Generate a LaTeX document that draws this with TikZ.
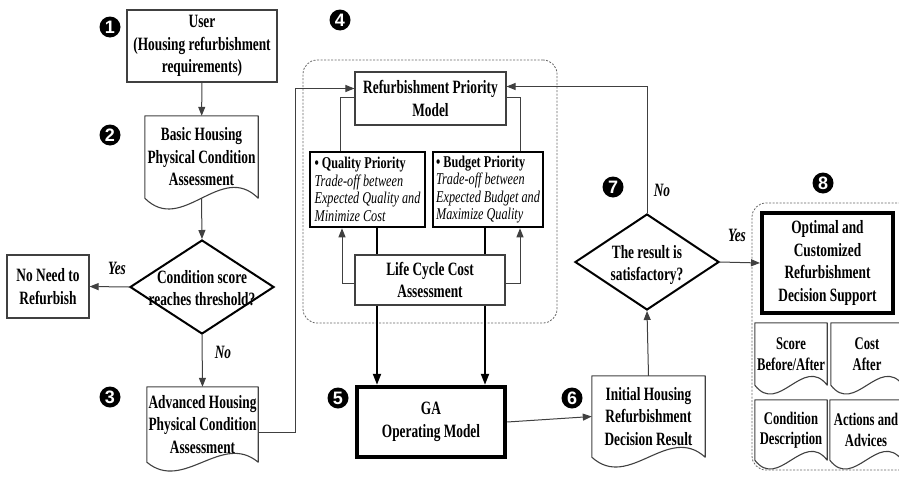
\documentclass[tikz,border=0pt]{standalone}
\usepackage{fontspec}
\setmainfont{Liberation Serif}[FakeStretch=0.71]
\newfontfamily\priofont{Liberation Serif}[FakeStretch=0.74]
\newfontfamily\digitfont{Liberation Sans}
\usetikzlibrary{arrows.meta,shapes.geometric,calc}

% document symbol: rectangle with a wavy bottom edge, drawn round a node
\newcommand\docwave[2]{%
  \draw[docline] let \p1=(#1.south west), \p2=(#1.north east) in
    (\x1,\y1) -- (\x1,\y2) -- (\x2,\y2) -- (\x2,\y1)
    .. controls ({\x2-0.33*(\x2-\x1)},{\y1+3.4*#2 pt}) and ({\x1+0.33*(\x2-\x1)},{\y1-3.4*#2 pt}) .. (\x1,\y1) -- cycle;}

\tikzset{
  txt/.style={font=\fontsize{18.8}{22.5}\selectfont\bfseries, align=center, inner sep=1pt},
  smalltxt/.style={txt, font=\fontsize{17.8}{20.5}\selectfont\bfseries},
  box/.style={txt, draw=black!75, line width=1.1pt},
  docline/.style={draw=black!75, line width=1.1pt, line join=round},
  heavy/.style={txt, draw=black, line width=#1},
  prio/.style={draw=black, line width=2.5pt, font=\priofont\fontsize{16.5}{17.5}\selectfont,
    align=left, inner sep=2pt, minimum height=75pt},
  decision/.style={diamond, draw=black, line width=2pt, inner sep=0pt},
  numball/.style={circle, fill=black, text=white, inner sep=0pt, minimum size=21pt,
    font=\digitfont\bfseries\fontsize{18}{18}\selectfont},
  flow/.style={draw=black!75, line width=1pt, -{Triangle[length=9pt,width=7pt]}},
  link/.style={draw=black!75, line width=1pt},
  boldlink/.style={draw=black, line width=2pt},
  boldflow/.style={draw=black, line width=2pt, -{Triangle[length=11pt,width=8pt]}},
  group/.style={draw=black!60, dash pattern=on 2pt off 1.5pt, line width=0.8pt, rounded corners=14pt},
  lbl/.style={font=\fontsize{18.8}{20}\selectfont\bfseries\itshape, inner sep=0pt},
}

\begin{document}
\begin{tikzpicture}[x=1pt,y=-1pt]
\useasboundingbox (0,0) rectangle (899,479);

% dashed groups
\node[group, minimum width=254pt, minimum height=263pt] (g4) at (430,191.5) {};
\node[group, minimum width=166pt, minimum height=267pt] (g8) at (835,336.5) {};

% left column
\node[box, minimum width=150pt, minimum height=72pt] (user) at (202,46)
  {User\\(Housing refurbishment\\requirements)};
\node[txt, minimum width=113pt, minimum height=82pt] (basic) at (201.5,157)
  {Basic Housing\\Physical Condition\\Assessment};
\docwave{basic}{11}
\node[decision, minimum width=144pt, minimum height=94pt] (cond) at (202,287) {};
\node[txt] (condt) at (202,288) {Condition score\\reaches threshold?};
\node[box, minimum width=82pt, minimum height=63pt] (noneed) at (48,286.5)
  {No Need to\\Refurbish};
\node[txt, minimum width=111pt, minimum height=75pt] (adv) at (202.5,424.5)
  {Advanced Housing\\Physical Condition\\Assessment};
\docwave{adv}{9}

% refurbishment priority group
\node[box, minimum width=151pt, minimum height=53pt] (rpm) at (430.5,98.5)
  {Refurbishment Priority\\Model};
\node[prio, minimum width=115pt] (qp) at (367.5,189.5)
  {\textbf{\textbullet\ Quality Priority}\\\textit{Trade-off between}\\\textit{Expected Quality and}\\\textit{Minimize Cost}};
\node[prio, minimum width=110pt] (bp) at (488,189.5)
  {\textbf{\textbullet\ Budget Priority}\\\textit{Trade-off between}\\\textit{Expected Budget and}\\\textit{Maximize Quality}};
\node[box, minimum width=150pt, minimum height=50pt] (lcc) at (430,280)
  {Life Cycle Cost\\Assessment};

% optimisation and result
\node[heavy=4.5pt, minimum width=148pt, minimum height=70pt] (ga) at (431,422)
  {GA\\Operating Model};
\node[txt, minimum width=113pt, minimum height=81pt] (init) at (648.5,416.5)
  {Initial Housing\\Refurbishment\\Decision Result};
\docwave{init}{10}
\node[decision, minimum width=144pt, minimum height=96pt] (sat) at (647,262) {};
\node[txt] (satt) at (647,265) {The result is\\satisfactory?};

% decision support group
\node[heavy=4pt, minimum width=131pt, minimum height=100pt] (opt) at (827.5,263)
  {Optimal and\\Customized\\Refurbishment\\Decision Support};
\node[smalltxt, minimum width=72pt, minimum height=62pt] (score) at (791,354) {Score\\Before/After};
\docwave{score}{9}
\node[smalltxt, minimum width=72pt, minimum height=62pt] (cost) at (867,354) {Cost\\After};
\docwave{cost}{9}
\node[smalltxt, minimum width=72pt, minimum height=60pt] (descr) at (791,430) {Condition\\Description};
\docwave{descr}{9}
\node[smalltxt, minimum width=72pt, minimum height=60pt] (advice) at (866,430) {Actions and\\Advices};
\docwave{advice}{9}

% step numbers
\node[numball] (s1) at (110,27) {1};
\node[numball] (s2) at (110,135) {2};
\node[numball] (s3) at (110,397) {3};
\node[numball] (s4) at (340,20) {4};
\node[numball] (s5) at (338,398) {5};
\node[numball] (s6) at (572,398) {6};
\node[numball] (s7) at (613,187) {7};
\node[numball] (s8) at (823,183) {8};

% connectors
\draw[flow] (user) -- (basic);
\draw[flow] (basic.south) -- (cond.north);
\draw[flow] (cond.west) -- (noneed.east);
\draw[flow] (cond.south) -- (adv.north);
\draw[flow] ([yshift=-8pt]adv.east) -- ++(37,0) |- ([yshift=10pt]rpm.west);

\draw[link] ([yshift=1.5pt]rpm.west) -| ([xshift=-27.5pt]qp.north);
\draw[link] ([yshift=1.5pt]rpm.east) -| ([xshift=32pt]bp.north);
\draw[boldlink] ([xshift=9.5pt]qp.south) -- ([xshift=9.5pt]qp.south |- lcc.north);
\draw[boldlink] ([xshift=-3pt]bp.south) -- ([xshift=-3pt]bp.south |- lcc.north);
\draw[flow] ([yshift=-3pt]lcc.west) -| ([xshift=-25.5pt]qp.south);
\draw[flow] ([yshift=-3pt]lcc.east) -| ([xshift=32pt]bp.south);
\draw[boldflow] ([xshift=-53pt]lcc.south) -- ([xshift=-53pt]lcc.south |- ga.north);
\draw[boldflow] ([xshift=55pt]lcc.south) -- ([xshift=55pt]lcc.south |- ga.north);

\draw[flow] (ga.east) -- (init.west);
\draw[flow] (init.north) -- (sat.south);
\draw[flow] (sat.north) |- ([yshift=12pt]rpm.east);
\draw[flow] (sat.east) -- (opt.west);

% branch labels
\node[lbl] (yes1) at (117,268) {Yes};
\node[lbl] (no1) at (223,352) {No};
\node[lbl] (no2) at (662,190) {No};
\node[lbl] (yes2) at (737,235) {Yes};
\end{tikzpicture}
\end{document}
